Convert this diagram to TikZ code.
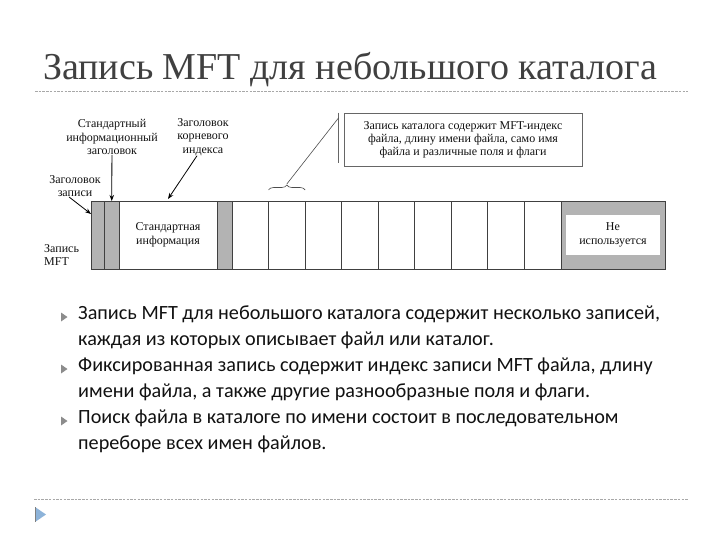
\documentclass[tikz,border=0pt]{standalone}
\usepackage{fontspec}
\setmainfont{Liberation Serif}
\newfontfamily\bodyfont{Carlito}
\usetikzlibrary{arrows.meta,positioning,decorations.pathreplacing}
\definecolor{segray}{HTML}{B3B3B3}
\definecolor{ink}{HTML}{111111}
\definecolor{titlegray}{HTML}{404040}
\definecolor{rulegray}{HTML}{A8A8A8}
\definecolor{bulletgray}{HTML}{8C8C8C}
\definecolor{navblue}{HTML}{8DB3D9}

\begin{document}
\begin{tikzpicture}[x=1pt, y=-1pt,
  seg/.style={draw=black!75, line width=0.8pt, minimum height=68pt, inner sep=0pt, outer sep=0pt, anchor=west},
  hdrseg/.style={seg, fill=segray},
  cellseg/.style={seg, fill=white, minimum width=36.55pt},
  lbl/.style={font=\fontsize{12}{13.4}\selectfont, align=center, inner sep=0pt, text=ink},
  pointer/.style={-{Stealth[length=6pt, width=4.5pt]}, line width=0.8pt},
  item/.style={font=\bodyfont\fontsize{20.2}{26}\selectfont, text=ink, align=left, anchor=north west, inner sep=0pt},
  rule/.style={rulegray, line width=0.7pt, dash pattern=on 2.5pt off 1.2pt}]
  \useasboundingbox (0,0) rectangle (720,540);

  % title and rules
  \node[font=\fontsize{38}{42}\selectfont, text=titlegray, anchor=base west, inner sep=0pt] (title) at (43,80)
    {Запись MFT для небольшого каталога};
  \coordinate (topl) at (35,91);
  \coordinate (topr) at (688,91);
  \draw[rule] (topl) -- (topr);
  \coordinate (botl) at (34,499);
  \coordinate (botr) at (688,499);
  \draw[rule] (botl) -- (botr);
  \fill[navblue] (35,507) -- (46,514.5) -- (35,522) -- cycle;
  \draw[gray, line width=0.8pt] (35.4,507) -- (35.4,522);

  % the record
  \node[hdrseg, minimum width=13.5pt] (rechdr) at (91,235) {};
  \node[hdrseg, minimum width=14.5pt, right=0pt of rechdr] (stdhdr) {};
  \node[seg, minimum width=98pt, right=0pt of stdhdr, lbl] (stdinfo) {Стандартная\\информация};
  \node[hdrseg, minimum width=15pt, right=0pt of stdinfo] (roothdr) {};
  \node[cellseg, right=0pt of roothdr] (c1) {};
  \foreach \i [count=\j from 2] in {1,...,8}
    \node[cellseg, right=0pt of c\i] (c\j) {};
  \node[hdrseg, minimum width=104pt, right=0pt of c9] (unused) {};
  \node[lbl, fill=white, minimum width=94pt, minimum height=40pt] (unusedtxt) at (unused.center)
    {Не\\используется};

  % labels on the left
  \node[lbl] (stdhdrlbl) at (112,137) {Стандартный\\информационный\\заголовок};
  \node[lbl] (roothdrlbl) at (203,137) {Заголовок\\корневого\\индекса};
  \node[lbl] (rechdrlbl) at (75,186) {Заголовок\\записи};
  \node[lbl, align=left, anchor=west] (mftlbl) at (44,255) {Запись\\MFT};
  \draw[pointer] (stdhdrlbl) -- (stdhdr.north);
  \draw[pointer] ([xshift=-6pt]roothdrlbl.south) -- ([yshift=2pt]stdinfo.north);
  \draw[pointer] ([xshift=-6pt]rechdrlbl.south) -- ([yshift=-13pt]rechdr.north west);

  % directory entry callout
  \node[draw=black!60, line width=0.6pt, minimum width=238pt, minimum height=53pt, align=center,
        font=\fontsize{12}{13}\selectfont, text=ink] (note) at (463,139.5)
    {Запись каталога содержит MFT-индекс\\файла, длину имени файла, само имя\\файла и различные поля и флаги};
  \coordinate (notebar) at ([xshift=-5pt]note.north west);
  \draw[black!60, line width=0.6pt] (notebar) -- ([xshift=-5pt, yshift=3pt]note.south west);
  \draw[black!70, line width=0.6pt, decorate, decoration={brace, amplitude=5pt}]
    ([yshift=11pt]c2.north west) -- ([yshift=11pt]c2.north east) coordinate[midway, yshift=6pt] (bracetip);
  \draw[black!70, line width=0.6pt] (bracetip) -- ([yshift=-5pt]notebar);

  % bullet list
  \foreach \y in {317,369,421}
    \fill[bulletgray] (61,\y-4.5) -- (67.5,\y) -- (61,\y+4.5) -- cycle;
  \node[item] (item1) at (78,306)
    {Запись MFT для небольшого каталога содержит несколько записей,\\каждая из которых описывает файл или каталог.};
  \node[item] (item2) at (78,358)
    {Фиксированная запись содержит индекс записи MFT файла, длину\\имени файла, а также другие разнообразные поля и флаги.};
  \node[item] (item3) at (78,410)
    {Поиск файла в каталоге по имени состоит в последовательном\\переборе всех имен файлов.};
\end{tikzpicture}
\end{document}
